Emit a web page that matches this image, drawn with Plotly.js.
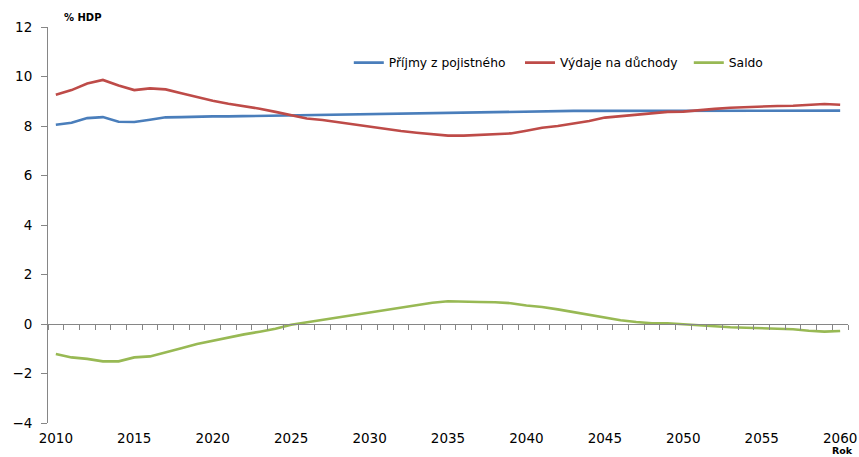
<!DOCTYPE html>
<html>
<head>
<meta charset="utf-8">
<script src="https://cdn.plot.ly/plotly-3.0.1.min.js"></script>
<style>html,body{margin:0;padding:0;background:#fff;}#chart{width:859px;height:457px;}</style>
</head>
<body>
<div id="chart"></div>
<script>
const years = [];
for (let y = 2010; y <= 2060; y++) years.push(y);

const prijmy = [8.05, 8.13, 8.32, 8.36, 8.17, 8.16, 8.25, 8.35, 8.36, 8.38,
  8.39, 8.39, 8.40, 8.41, 8.42, 8.44, 8.46, 8.46, 8.47, 8.47,
  8.48, 8.49, 8.50, 8.51, 8.53, 8.54, 8.55, 8.56, 8.57, 8.58,
  8.58, 8.59, 8.60, 8.61, 8.61, 8.61, 8.61, 8.61, 8.61, 8.61,
  8.61, 8.61, 8.61, 8.61, 8.61, 8.61, 8.62, 8.62, 8.62, 8.62, 8.62];

const vydaje = [9.26, 9.45, 9.72, 9.86, 9.64, 9.45, 9.52, 9.48, 9.32, 9.16,
  9.02, 8.90, 8.81, 8.70, 8.57, 8.43, 8.30, 8.24, 8.15, 8.05,
  7.96, 7.87, 7.80, 7.73, 7.66, 7.61, 7.61, 7.64, 7.66, 7.70,
  7.81, 7.93, 8.00, 8.09, 8.20, 8.34, 8.40, 8.47, 8.54, 8.57,
  8.58, 8.62, 8.69, 8.74, 8.77, 8.78, 8.81, 8.82, 8.86, 8.89, 8.86];

const saldo = [-1.21, -1.35, -1.41, -1.51, -1.51, -1.35, -1.31, -1.16, -0.98, -0.81,
  -0.67, -0.54, -0.42, -0.31, -0.19, -0.03, 0.07, 0.16, 0.27, 0.38,
  0.46, 0.57, 0.67, 0.77, 0.86, 0.92, 0.92, 0.89, 0.88, 0.84,
  0.75, 0.69, 0.59, 0.48, 0.36, 0.23, 0.15, 0.08, 0.03, 0.03,
  -0.01, -0.05, -0.11, -0.13, -0.15, -0.17, -0.20, -0.21, -0.27, -0.31, -0.28];

const labelYears = [2010, 2015, 2020, 2025, 2030, 2035, 2040, 2045, 2050, 2055, 2060];
const seriesNames = ['Příjmy z pojistného', 'Výdaje na důchody', 'Saldo'];
const seriesColors = ['#4A7EBB', '#BE4B48', '#98B954'];
const legendIds = ['legend', 'legend2', 'legend3'];
const legendX = [0.376, 0.59, 0.801];

const font = 'DejaVu Sans, Verdana, sans-serif';

const traces = [prijmy, vydaje, saldo].map((vals, i) => ({
  x: years, y: vals, type: 'scatter', mode: 'lines',
  name: seriesNames[i], legend: legendIds[i],
  line: {color: seriesColors[i], width: 2.6},
  xaxis: 'x', yaxis: 'y'
}));

const legendStyle = (x) => ({
  orientation: 'h', x: x, xanchor: 'left', y: 0.91, yanchor: 'middle',
  font: {family: font, size: 12.3, color: '#000'},
  bgcolor: 'rgba(0,0,0,0)'
});

const layout = {
  width: 859, height: 457,
  margin: {l: 48, r: 11, t: 27, b: 34},
  paper_bgcolor: '#fff', plot_bgcolor: '#fff',
  font: {family: font, size: 12, color: '#000'},
  showlegend: true,
  legend: legendStyle(legendX[0]),
  legend2: legendStyle(legendX[1]),
  legend3: legendStyle(legendX[2]),
  xaxis: {
    range: [2009.5, 2060.5], tickmode: 'array', tickvals: labelYears,
    ticks: '', showline: false, showgrid: false, zeroline: false,
    tickfont: {family: font, size: 13.5, color: '#000'},
    ticklabelstandoff: 5, fixedrange: true
  },
  xaxis2: {
    overlaying: 'x', anchor: 'free', position: 0.25, side: 'bottom',
    range: [2009.5, 2060.5], tickmode: 'linear', tick0: 2009.5, dtick: 1,
    ticks: 'outside', ticklen: 5, tickcolor: '#868686', tickwidth: 1,
    showline: true, linecolor: '#868686', linewidth: 1,
    showticklabels: false, showgrid: false, zeroline: false
  },
  yaxis: {
    range: [-4, 12], tickmode: 'linear', tick0: -4, dtick: 2,
    ticks: 'outside', ticklen: 6, tickcolor: '#868686',
    showline: true, linecolor: '#868686', linewidth: 1,
    showgrid: false, zeroline: false,
    tickfont: {family: font, size: 13.5, color: '#000'},
    ticklabelstandoff: 6
  },
  annotations: [
    {text: '<b>% HDP</b>', xref: 'paper', yref: 'paper', x: 0.018, y: 1.025,
     xanchor: 'left', yanchor: 'middle', showarrow: false,
     font: {family: font, size: 10, color: '#000'}},
    {text: '<b>Rok</b>', xref: 'paper', yref: 'paper', x: 1.007, y: -0.085,
     xanchor: 'right', yanchor: 'bottom', showarrow: false, borderpad: 0,
     font: {family: font, size: 9.5, color: '#000'}}
  ]
};

// invisible helper trace so the zero-line axis (xaxis2) is drawn
traces.push({x: [2010], y: [0], xaxis: 'x2', yaxis: 'y', mode: 'markers',
  marker: {opacity: 0}, showlegend: false, hoverinfo: 'skip'});

Plotly.newPlot('chart', traces, layout, {displayModeBar: false, staticPlot: true});
</script>
</body>
</html>
